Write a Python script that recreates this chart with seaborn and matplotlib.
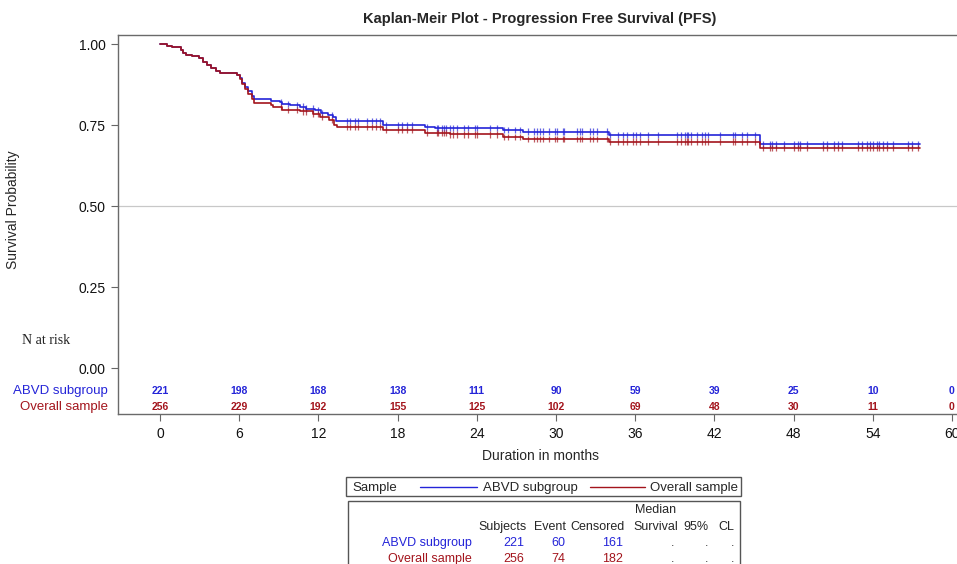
import numpy as np
import pandas as pd
import matplotlib
matplotlib.use("Agg")
import matplotlib.pyplot as plt
from matplotlib.patches import Rectangle
from matplotlib.lines import Line2D
import seaborn as sns

# ---------------- data ----------------
groups = ["ABVD subgroup", "Overall sample"]
abvd_time = [0, 0.53, 0.9, 1.6, 1.75, 2.0, 2.4, 2.95, 3.25, 3.55, 3.9, 4.25, 4.55, 5.85, 6.05,
             6.2, 6.45, 6.65, 6.95, 7.1, 8.4, 9.1, 9.25, 9.85, 10.6, 11.05, 11.75, 12.2, 12.7,
             13.1, 13.35, 16.9, 20.1, 20.8, 26.0, 27.5, 34.0, 45.45, 57.6]
abvd_surv = [1.0, 0.995, 0.990, 0.983, 0.972, 0.967, 0.962, 0.958, 0.946, 0.936, 0.926, 0.916, 0.910,
             0.906, 0.895, 0.880, 0.869, 0.854, 0.840, 0.830, 0.825, 0.822, 0.815, 0.811, 0.807,
             0.801, 0.796, 0.788, 0.781, 0.774, 0.763, 0.751, 0.745, 0.741, 0.735, 0.730, 0.719,
             0.692, 0.692]
overall_time = [0, 0.53, 0.9, 1.6, 1.75, 2.0, 2.4, 2.95, 3.25, 3.55, 3.9, 4.25, 4.55, 5.85, 6.05,
                6.2, 6.45, 6.65, 6.95, 7.1, 8.4, 8.6, 9.25, 10.6, 11.6, 12.1, 12.8, 13.2, 13.4,
                16.9, 20.1, 22.0, 26.0, 27.5, 34.0, 45.45, 57.6]
overall_surv = [1.0, 0.995, 0.990, 0.983, 0.972, 0.967, 0.962, 0.958, 0.946, 0.936, 0.926, 0.916,
                0.910, 0.906, 0.893, 0.876, 0.862, 0.846, 0.830, 0.818, 0.812, 0.806, 0.797, 0.792,
                0.784, 0.774, 0.765, 0.750, 0.745, 0.735, 0.726, 0.721, 0.714, 0.707, 0.699, 0.679,
                0.679]
censor_times = [9.2, 9.7, 10.4, 10.8, 11.1, 11.6, 12.0, 12.3, 13.0, 14.2, 14.4, 14.8, 15.0, 15.7,
                16.1, 16.4, 16.7, 17.1, 18.0, 18.3, 18.7, 19.1, 20.2, 21.0, 21.1, 21.4, 21.5, 21.7,
                22.0, 22.2, 22.5, 23.0, 23.3, 23.9, 24.0, 25.0, 25.5, 26.1, 26.4, 26.9, 27.3, 27.9,
                28.3, 28.6, 28.8, 29.0, 29.5, 29.9, 30.1, 30.5, 30.6, 31.6, 31.8, 32.0, 32.6, 32.8,
                33.1, 33.9, 34.1, 34.7, 35.1, 35.4, 35.8, 36.1, 36.4, 37.0, 37.7, 39.2, 39.5, 39.8,
                39.9, 40.0, 40.2, 40.7, 41.1, 41.3, 41.5, 42.4, 43.4, 43.6, 44.1, 44.5, 45.1, 45.7,
                46.2, 46.4, 46.7, 47.3, 48.0, 48.3, 48.5, 49.0, 50.2, 50.5, 51.1, 51.4, 51.7, 52.9,
                53.2, 53.6, 53.8, 54.0, 54.3, 54.5, 54.8, 55.1, 55.5, 56.7, 57.0, 57.4]
risk_months = [0, 6, 12, 18, 24, 30, 36, 42, 48, 54, 60]
abvd_risk = [221, 198, 168, 138, 111, 90, 59, 39, 25, 10, 0]
overall_risk = [256, 229, 192, 155, 125, 102, 69, 48, 30, 11, 0]
y_ticks = [0.00, 0.25, 0.50, 0.75, 1.00]
summary_subjects = [221, 256]
summary_event = [60, 74]
summary_censored = [161, 182]

# ---------------- style ----------------
sns.set_style("white")
plt.rcParams["font.family"] = ["Liberation Sans", "DejaVu Sans"]
BLUE = "#2424d8"
RED = "#a3141c"
palette = {groups[0]: BLUE, groups[1]: RED}

W, H = 957, 564
fig = plt.figure(figsize=(W / 100, H / 100), dpi=100)
def fx(px): return px / W
def fy(py): return 1 - py / H

left, right, top, bottom = 118, 962, 35, 414
ax = fig.add_axes([fx(left), fy(bottom), fx(right) - fx(left), fy(top) - fy(bottom)])

# curves
df = pd.concat([
    pd.DataFrame({"t": abvd_time, "s": abvd_surv, "g": groups[0]}),
    pd.DataFrame({"t": overall_time, "s": overall_surv, "g": groups[1]}),
])
sns.lineplot(data=df, x="t", y="s", hue="g", palette=palette, drawstyle="steps-post",
             estimator=None, sort=False, linewidth=1.2, legend=False, ax=ax)

# censor marks
def surv_at(times, surv, c):
    i = np.searchsorted(times, c, side="right") - 1
    return np.array(surv)[i]
cdf = pd.concat([
    pd.DataFrame({"t": censor_times, "s": surv_at(abvd_time, abvd_surv, censor_times), "g": groups[0]}),
    pd.DataFrame({"t": censor_times, "s": surv_at(overall_time, overall_surv, censor_times), "g": groups[1]}),
])
sns.scatterplot(data=cdf, x="t", y="s", hue="g", palette=palette, marker="|", s=20,
                linewidth=0.9, alpha=0.7, legend=False, ax=ax)

ax.axhline(0.5, color="#c8c8c8", lw=0.9, zorder=0)

ax.set_xlim(-3.18, 60.76)
ax.set_ylim(-0.142, 1.028)
ax.set_xticks(risk_months)
ax.set_xticklabels([str(m) for m in risk_months], fontsize=10)
ax.set_yticks(y_ticks)
ax.set_yticklabels([f"{v:.2f}" for v in y_ticks], fontsize=10)
ax.tick_params(axis="both", direction="out", length=5, width=0.8, color="#666666",
               left=True, bottom=True, pad=4, labelcolor="#111111")
for sp in ax.spines.values():
    sp.set_color("#6a6a6a")
    sp.set_linewidth(1.0)

ax.set_xlabel("Duration in months", fontsize=10, labelpad=6)
ax.set_ylabel("Survival Probability", fontsize=10)
ax.yaxis.set_label_coords((20 - left) / (right - left), (bottom - 210) / (bottom - top))
ax.set_title("Kaplan-Meir Plot - Progression Free Survival (PFS)", fontsize=10.5,
             fontweight="bold", pad=9)

# at-risk table
y_abvd = (368 - 391) / 324
y_over = (368 - 407) / 324
for m, a, o in zip(risk_months, abvd_risk, overall_risk):
    ax.text(m, y_abvd, str(a), color=BLUE, fontsize=7.5, fontweight="bold", ha="center", va="center")
    ax.text(m, y_over, str(o), color=RED, fontsize=7.5, fontweight="bold", ha="center", va="center")
fig.text(fx(108), fy(391), groups[0], color=BLUE, fontsize=9.5, ha="right", va="center")
fig.text(fx(108), fy(407), groups[1], color=RED, fontsize=9.5, ha="right", va="center")
fig.text(fx(22), fy(341), "N at risk", fontsize=10, family=["Liberation Serif", "DejaVu Serif"],
         ha="left", va="center", color="#222222")

# legend box
fig.patches.append(Rectangle((fx(346), fy(496)), fx(741) - fx(346), fy(477) - fy(496),
                             transform=fig.transFigure, fill=False, edgecolor="#555555", lw=1.0))
ly = fy(487.5)
fig.text(fx(352), ly, "Sample", fontsize=9.5, ha="left", va="center")
fig.lines.append(Line2D([fx(420), fx(477)], [fy(486.5)] * 2, color=BLUE, lw=1.0, transform=fig.transFigure))
fig.text(fx(483), ly, groups[0], fontsize=9.5, ha="left", va="center")
fig.lines.append(Line2D([fx(590), fx(645)], [fy(486.5)] * 2, color=RED, lw=1.0, transform=fig.transFigure))
fig.text(fx(738), ly, groups[1], fontsize=9.5, ha="right", va="center")

# summary table box
fig.patches.append(Rectangle((fx(348), fy(580)), fx(740) - fx(348), fy(501) - fy(580),
                             transform=fig.transFigure, fill=False, edgecolor="#555555", lw=1.0))
fs = 9
fig.text(fx(656), fy(510), "Median", fontsize=fs, ha="center", va="center")
hy = fy(527)
fig.text(fx(527), hy, "Subjects", fontsize=fs, ha="right", va="center")
fig.text(fx(566), hy, "Event", fontsize=fs, ha="right", va="center")
fig.text(fx(625), hy, "Censored", fontsize=fs, ha="right", va="center")
fig.text(fx(678), hy, "Survival", fontsize=fs, ha="right", va="center")
fig.text(fx(708), hy, "95%", fontsize=fs, ha="right", va="center")
fig.text(fx(734), hy, "CL", fontsize=fs, ha="right", va="center")
for i, (py, col) in enumerate([(543, BLUE), (559, RED)]):
    yy = fy(py)
    fig.text(fx(472), yy, groups[i], color=col, fontsize=fs, ha="right", va="center")
    fig.text(fx(524), yy, str(summary_subjects[i]), color=col, fontsize=fs, ha="right", va="center")
    fig.text(fx(565), yy, str(summary_event[i]), color=col, fontsize=fs, ha="right", va="center")
    fig.text(fx(623), yy, str(summary_censored[i]), color=col, fontsize=fs, ha="right", va="center")
    for dx in (673, 707, 733):
        fig.text(fx(dx), yy, ".", color="#333333", fontsize=fs, ha="center", va="center")

fig.savefig("out.png", dpi=100)
